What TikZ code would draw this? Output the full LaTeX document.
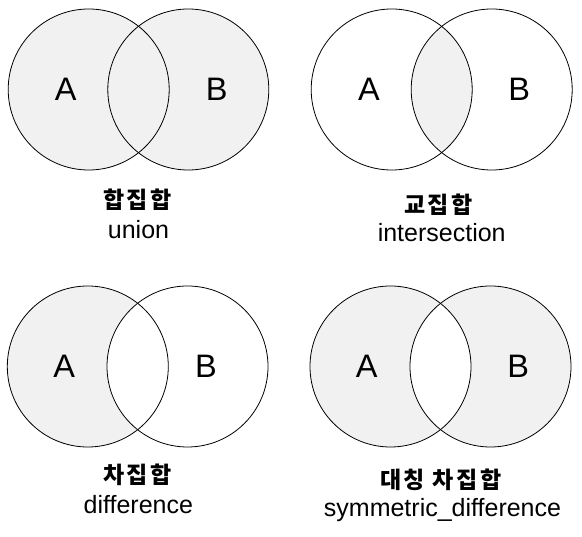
\documentclass[tikz,border=0pt]{standalone}
\usepackage{fontspec}
\setmainfont{Liberation Sans}
\newfontfamily\kr{Noto Sans CJK KR}
\definecolor{setfill}{RGB}{241,241,241}
\newcommand{\kg}{\hspace{2.5pt}}
\begin{document}
\begin{tikzpicture}[x=1pt,y=-1pt,
  ring/.style={draw=black,line width=0.8pt},
  setlabel/.style={font=\fontsize{32.5}{32.5}\selectfont,inner sep=0pt,anchor=center},
  krtitle/.style={font=\kr\bfseries\fontsize{23}{23}\selectfont,inner sep=0pt,anchor=base},
  entitle/.style={font=\fontsize{25}{25}\selectfont,inner sep=0pt,anchor=base}]
\useasboundingbox (0,0) rectangle (582,537);
\def\r{80.5}
% ---- union (top-left)
\coordinate (ua) at (88.7,89.5);
\coordinate (ub) at (188.3,89.5);
\fill[setfill] (ua) circle (\r) (ub) circle (\r);
\draw[ring] (ua) circle (\r);
\draw[ring] (ub) circle (\r);
\node[setlabel] (uA) at (65.6,89.5) {A};
\node[setlabel] (uB) at (216.7,89.5) {B};
\node[krtitle] (ukr) at (137.5,209) {합\kg 집\kg 합};
\node[entitle] (uen) at (138.5,238.3) {union};
% ---- intersection (top-right)
\coordinate (ia) at (391.7,89.5);
\coordinate (ib) at (491.7,89.5);
\begin{scope}
\clip (ia) circle (\r);
\fill[setfill] (ib) circle (\r);
\end{scope}
\draw[ring] (ia) circle (\r);
\draw[ring] (ib) circle (\r);
\node[setlabel] (iA) at (369,89.5) {A};
\node[setlabel] (iB) at (519.3,89.5) {B};
\node[krtitle] (ikr) at (438.3,214) {교\kg 집\kg 합};
\node[entitle] (ien) at (441.7,242) {intersection};
% ---- difference (bottom-left)
\coordinate (da) at (87.8,366.5);
\coordinate (db) at (187.5,366.5);
\fill[setfill] (da) circle (\r);
\fill[white] (db) circle (\r);
\draw[ring] (da) circle (\r);
\draw[ring] (db) circle (\r);
\node[setlabel] (dA) at (64.3,366.5) {A};
\node[setlabel] (dB) at (206,366.5) {B};
\node[krtitle] (dkr) at (137.5,484) {차\kg 집\kg 합};
\node[entitle] (den) at (138.3,513.3) {difference};
% ---- symmetric difference (bottom-right)
\coordinate (sa) at (390.5,366.5);
\coordinate (sb) at (490.5,366.5);
\fill[setfill,even odd rule] (sa) circle (\r) (sb) circle (\r);
\draw[ring] (sa) circle (\r);
\draw[ring] (sb) circle (\r);
\node[setlabel] (sA) at (366.7,366.5) {A};
\node[setlabel] (sB) at (518.3,366.5) {B};
\node[krtitle] (skr) at (440.8,489) {대\kg 칭\kg\ 차\kg 집\kg 합};
\node[entitle] (sen) at (442.5,517) {symmetric\_difference};
\end{tikzpicture}
\end{document}
